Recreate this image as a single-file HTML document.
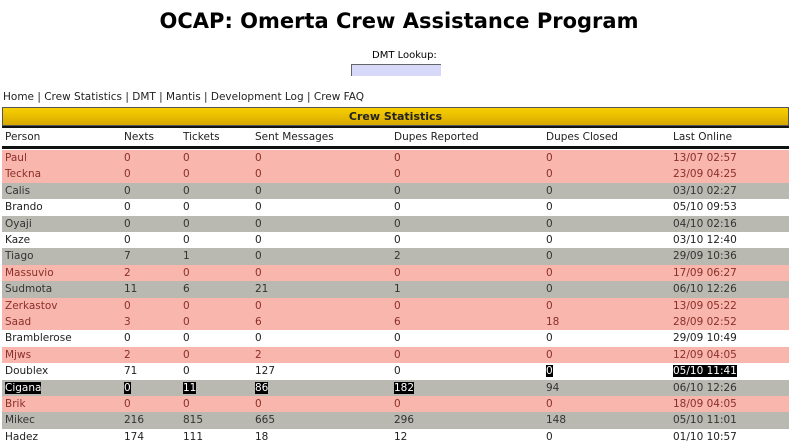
<!DOCTYPE html>
<html><head><style>
body{margin:0;width:798px;height:447px;background:#fff;font-family:"DejaVu Sans","Liberation Sans",sans-serif;position:relative;overflow:hidden}
.t{position:absolute;white-space:nowrap}
h1{position:absolute;top:9px;left:0;width:798px;text-align:center;margin:0;font:bold 21px/24px "DejaVu Sans",sans-serif;color:#000}
.row{position:absolute;left:2px;width:787px;height:16.4px;font-size:10.5px;line-height:16px}
.row span{position:absolute;top:0}
.p{background:#f9b6ad;color:#8a3028}.g{background:#b9b9b1;color:#333}.w{background:#fff;color:#222}
.s{background:#000;color:#fff}
</style></head><body>
<h1>OCAP: Omerta Crew Assistance Program</h1>
<div class="t" style="top:50px;left:372px;font-size:10px">DMT Lookup:</div>
<div class="t" style="top:64px;left:351px;width:89px;height:11px;background:#d8d8f8;border-top:1px solid #666;border-left:1px solid #666"></div>
<div class="t" style="top:91px;left:3px;font-size:10.5px;color:#222">Home | Crew Statistics | DMT | Mantis | Development Log | Crew FAQ</div>
<div class="t" style="top:107px;left:2px;width:787px;height:19px;background:linear-gradient(#f8d000,#d8a800);border:1px solid #555;box-sizing:border-box;text-align:center;font:bold 11px/18px 'DejaVu Sans',sans-serif;color:#222">Crew Statistics</div>
<div class="t" style="top:126px;left:2px;width:787px;height:2px;background:#111"></div>
<div class="row w" style="top:129px"><span style="left:3px">Person</span><span style="left:122px">Nexts</span><span style="left:181px">Tickets</span><span style="left:253px">Sent Messages</span><span style="left:392px">Dupes Reported</span><span style="left:544px">Dupes Closed</span><span style="left:671px">Last Online</span></div>
<div class="t" style="top:146px;left:2px;width:787px;height:3px;background:#111"></div>
<div id="rows"></div>
<script>
var S=function(v){return "<i class=s style='font-style:normal'>"+v+"</i>";};
var d=[["p","Paul",0,0,0,0,0,"13/07 02:57"],["p","Teckna",0,0,0,0,0,"23/09 04:25"],["g","Calis",0,0,0,0,0,"03/10 02:27"],["w","Brando",0,0,0,0,0,"05/10 09:53"],["g","Oyaji",0,0,0,0,0,"04/10 02:16"],["w","Kaze",0,0,0,0,0,"03/10 12:40"],["g","Tiago",7,1,0,2,0,"29/09 10:36"],["p","Massuvio",2,0,0,0,0,"17/09 06:27"],["g","Sudmota",11,6,21,1,0,"06/10 12:26"],["p","Zerkastov",0,0,0,0,0,"13/09 05:22"],["p","Saad",3,0,6,6,18,"28/09 02:52"],["w","Bramblerose",0,0,0,0,0,"29/09 10:49"],["p","Mjws",2,0,2,0,0,"12/09 04:05"],["w","Doublex",71,0,127,0,S(0),S("05/10 11:41")],["g",S("Cigana"),S(0),S(11),S(86),S(182),94,"06/10 12:26"],["p","Brik",0,0,0,0,0,"18/09 04:05"],["g","Mikec",216,815,665,296,148,"05/10 11:01"],["w","Hadez",174,111,18,12,0,"01/10 10:57"]];
var x=[3,122,181,253,392,544,671],h="";
d.forEach(function(r,i){h+='<div class="row '+r[0]+'" style="top:'+(150+i*16.4)+'px">';for(var j=1;j<8;j++)h+='<span style="left:'+x[j-1]+'px">'+r[j]+'</span>';h+='</div>';});
document.getElementById("rows").innerHTML=h;
</script>
</body></html>
